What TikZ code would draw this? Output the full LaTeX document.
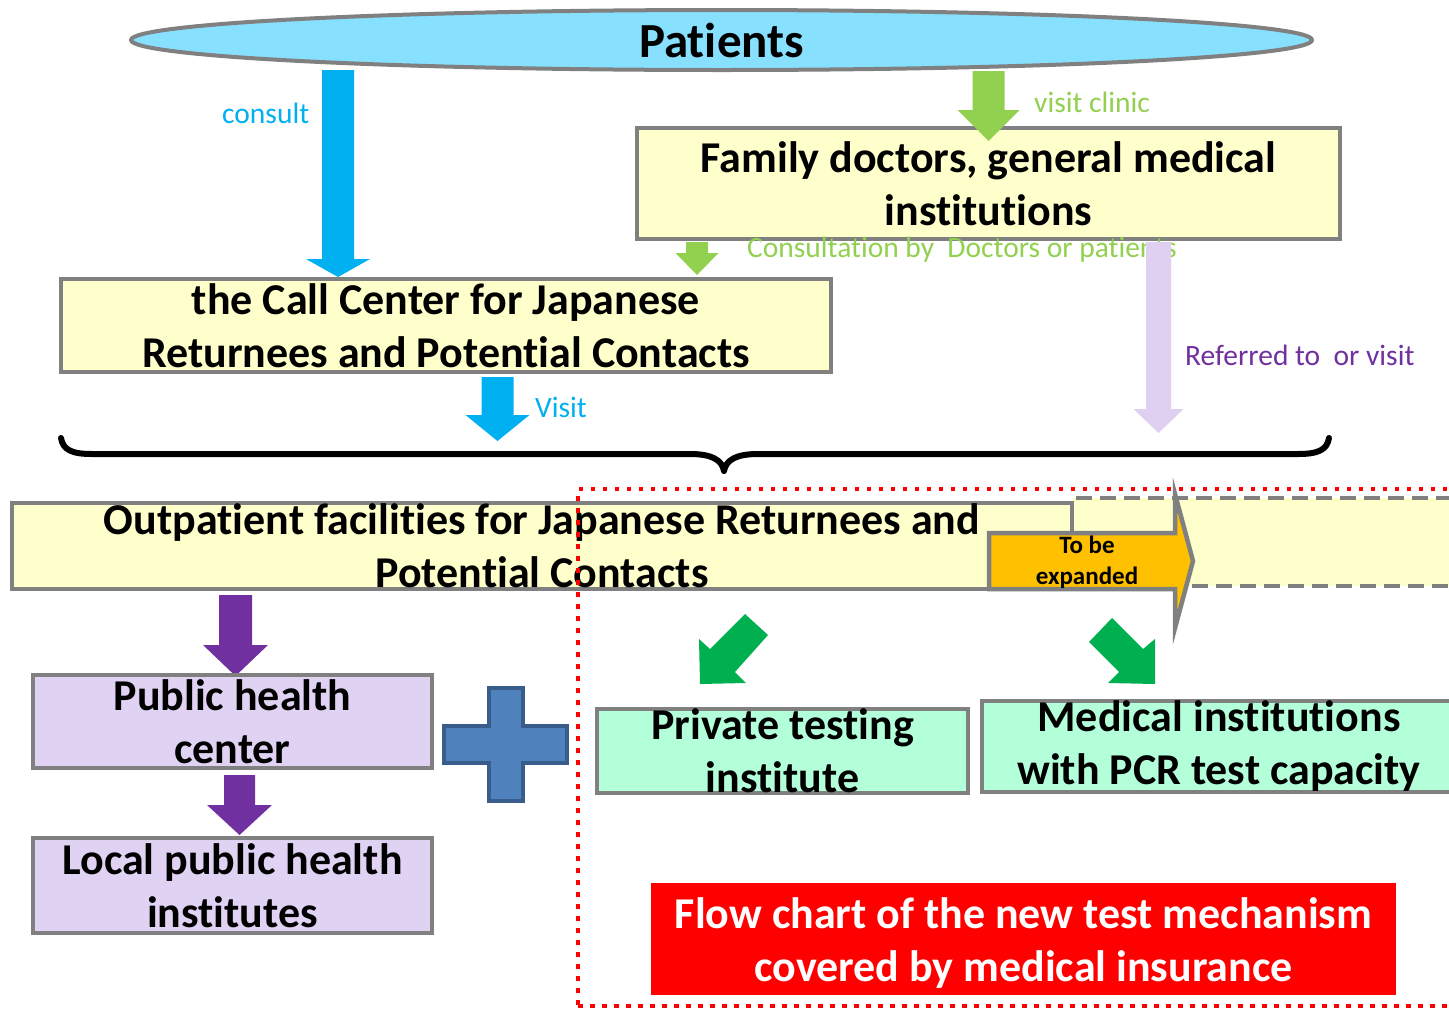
\documentclass[tikz,border=0pt]{standalone}
\usepackage{fontspec}
\setmainfont[Ligatures=NoCommon]{Carlito}
\usetikzlibrary{calc,shapes.geometric}
\definecolor{bgray}{HTML}{808080}
\definecolor{patblue}{HTML}{88E0FF}
\definecolor{yel}{HTML}{FFFFCC}
\definecolor{lav}{HTML}{E0D2F2}
\definecolor{lavarrow}{HTML}{DFCFF0}
\definecolor{purp}{HTML}{7030A0}
\definecolor{mint}{HTML}{B3FFDA}
\definecolor{orng}{HTML}{FFC000}
\definecolor{dgreen}{HTML}{00B050}
\definecolor{lgreen}{HTML}{92D050}
\definecolor{cblue}{HTML}{00B0F0}
\definecolor{plusfill}{HTML}{4F81BD}
\definecolor{plusdraw}{HTML}{385D8A}
\definecolor{pured}{HTML}{FF0000}
\newcommand\blkarrow[6]{%
  \fill[#1] let \p1=(#2), \p2=(#3) in
   (\x1-#4pt,\y1) -- (\x1+#4pt,\y1) -- (\x1+#4pt,\y2+#6pt) -- (\x1+#5pt,\y2+#6pt)
   -- (\x1,\y2) -- (\x1-#5pt,\y2+#6pt) -- (\x1-#4pt,\y2+#6pt) -- cycle;}
\begin{document}
\begin{tikzpicture}[x=1pt,y=-1pt,
  box/.style={draw=bgray, line width=4.5pt, inner sep=0pt, align=center,
    font=\fontsize{44}{53}\selectfont\bfseries},
  lbl/.style={anchor=west, inner sep=0pt, font=\fontsize{29.5}{35}\selectfont}]
\useasboundingbox (0,0) rectangle (1449,1010);
\clip (0,0) rectangle (1449,1010);
\fill[white] (0,0) rectangle (1449,1010);

% Patients
\node[ellipse, draw=bgray, fill=patblue, line width=4pt, minimum width=1181pt,
  minimum height=60pt, inner sep=0pt, font=\fontsize{49}{58}\selectfont\bfseries]
  (pat) at (721.5,40) {Patients};

% consult arrow
\coordinate (c1s) at (338,70);
\coordinate (c1e) at (338,277);
\blkarrow{cblue}{c1s}{c1e}{16}{32}{18}
\node[lbl, text=cblue] (lcons) at (222,113) {consult};

% Family doctors box
\node[box, fill=yel, minimum width=703pt, minimum height=111pt] (fam) at (988.5,183.5)
  {Family doctors, general medical\\institutions};

% visit clinic arrow
\coordinate (v1s) at (988.5,71);
\coordinate (v1e) at (988.5,141);
\blkarrow{lgreen}{v1s}{v1e}{16}{31}{31}
\node[lbl, text=lgreen] (lvc) at (1034,102) {visit clinic};

% Call center box
\node[box, fill=yel, minimum width=770pt, minimum height=93pt] (call) at (446,325.5)
  {the Call Center for Japanese\\Returnees and Potential Contacts};

% small green arrow
\coordinate (g2s) at (697,242);
\coordinate (g2e) at (697,275);
\blkarrow{lgreen}{g2s}{g2e}{11}{21.5}{22}
\node[lbl, text=lgreen] (lconsd) at (747,250) {Consultation by\ \ Doctors or patients};

% lavender arrow
\coordinate (ls) at (1158.5,242);
\coordinate (le) at (1158.5,433);
\blkarrow{lavarrow}{ls}{le}{12.5}{25}{24}
\node[lbl, text=purp] (lref) at (1185,355) {Referred to\ \ or visit};

% Visit arrow
\coordinate (vs) at (497.5,377);
\coordinate (ve) at (497.5,441);
\blkarrow{cblue}{vs}{ve}{16}{32}{26}
\node[lbl, text=cblue] (lvisit) at (535,407) {Visit};

% brace
\draw[line width=6pt, line cap=round, line join=round]
  (61,438) .. controls (63,450) and (72,454) .. (92,454) -- (690,454)
  .. controls (712,454) and (722,460) .. (724,471)
  .. controls (726,460) and (736,454) .. (758,454) -- (1298,454)
  .. controls (1318,454) and (1327,450) .. (1329,438);

% extension dashed box
\node[draw=bgray, fill=yel, line width=4pt, dash pattern=on 16pt off 8pt,
  minimum width=398pt, minimum height=88pt, inner sep=0pt] (ext) at (1271,542) {};

% Outpatient box
\node[box, fill=yel, minimum width=1060pt, minimum height=86pt] (outp) at (542,546)
  {Outpatient facilities for Japanese Returnees and\\Potential Contacts};

% To be expanded arrow
\filldraw[fill=orng, draw=bgray, line width=4.5pt, line join=miter]
  (989,533) -- (1175,533) -- (1175,494) -- (1193,561) -- (1175,628)
  -- (1175,589) -- (989,589) -- cycle;
\node[inner sep=0pt, align=center, font=\fontsize{25}{31}\selectfont\bfseries]
  (tbe) at (1087,562.5) {To be\\expanded};

% purple arrows and public health boxes
\coordinate (p1s) at (235.5,595);
\coordinate (p1e) at (235.5,676);
\blkarrow{purp}{p1s}{p1e}{16.5}{32.5}{31}
\node[box, fill=lav, minimum width=399pt, minimum height=93pt] (ph) at (232.5,721.5)
  {Public health\\center};
\coordinate (p2s) at (239.5,775);
\coordinate (p2e) at (239.5,835);
\blkarrow{purp}{p2s}{p2e}{15.5}{32.5}{30}
\node[box, fill=lav, minimum width=399pt, minimum height=95pt] (loc) at (232.5,885.5)
  {Local public health\\institutes};

% plus
\filldraw[fill=plusfill, draw=plusdraw, line width=4pt]
  (489,688) -- (523,688) -- (523,726) -- (567,726) -- (567,763) -- (523,763)
  -- (523,801) -- (489,801) -- (489,763) -- (444,763) -- (444,726) -- (489,726) -- cycle;

% green diagonal arrows
\fill[dgreen] (745,614) -- (768,635) -- (735,672) -- (746,683) -- (700,684)
  -- (699,639) -- (710,649) -- cycle;
\fill[dgreen] (1112,618) -- (1143,649) -- (1155,639) -- (1155,684) -- (1108,683)
  -- (1119,672) -- (1089,642) -- cycle;

% testing boxes
\node[box, fill=mint, minimum width=371pt, minimum height=84pt] (priv) at (782.5,751)
  {Private testing\\institute};
\node[box, fill=mint, minimum width=474pt, minimum height=85pt] (med) at (1219,746.5)
  {Medical institutions\\with PCR test capacity};

% red title
\node[fill=pured, inner sep=0pt, minimum width=745pt, minimum height=112pt]
  (titlebox) at (1023.5,939) {};
\node[text=white, align=center, inner sep=0pt,
  font=\fontsize{44}{53}\selectfont\bfseries] (title) at (1023.5,943)
  {Flow chart of the new test mechanism\\covered by medical insurance};

% red dotted frame
\node[draw=pured, line width=4.5pt, dash pattern=on 4.5pt off 7.5pt, inner sep=0pt,
  minimum width=902pt, minimum height=517pt] (zone) at (1029,747.5) {};
\end{tikzpicture}
\end{document}
